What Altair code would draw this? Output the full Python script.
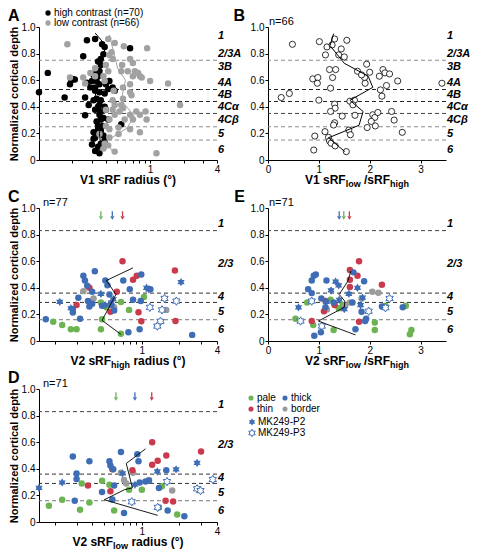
import altair as alt
import pandas as pd

W, H = 178, 133
FONT = "Liberation Sans"
PALE, THICK, THIN, BORDER = "#6cb352", "#3e6db5", "#c93a4c", "#9b9b9b"
LOWGRAY = "#a2a2a2"
HEX = ("M0,-1L0.289,-0.5L0.866,-0.5L0.577,0L0.866,0.5L0.289,0.5L0,1L-0.289,0.5"
       "L-0.866,0.5L-0.577,0L-0.866,-0.5L-0.289,-0.5Z")

# ---------------- data ----------------
v1_layers = ["1", "2/3A", "3B", "4A", "4B", "4Cα", "4Cβ", "5", "6"]
v1_layer_y = [0.935, 0.80, 0.70, 0.58, 0.485, 0.395, 0.30, 0.195, 0.072]
v1_bounds = [0.75, 0.53, 0.44, 0.35, 0.25, 0.15]
v1_bound_col = ["#8c8c8c", "#222222", "#222222", "#444444", "#8c8c8c", "#8c8c8c"]
v2_layers = ["1", "2/3", "4", "5", "6"]
v2_layer_y = [0.88, 0.58, 0.33, 0.22, 0.08]
v2_bounds = [0.83, 0.36, 0.29, 0.16]
v2_bound_col = ["#444444", "#333333", "#333333", "#777777"]

# Panel A
a_high_x = [0.32,0.27,0.37,0.39,0.66,0.25,0.38,0.36,0.35,0.12,0.33,0.31,0.34,0.20,0.21,0.195,0.30,0.33,0.27,0.35,
            0.19,0.32,0.40,0.46,0.42,0.10,0.17,0.26,0.32,0.33,0.31,0.36,0.28,0.34,0.39,0.36,0.40,0.26,0.35,0.38,
            0.36,0.42,0.55,0.34,0.35,0.36,0.31,0.33,0.38,0.32,0.39,0.30,0.36,0.34,0.32,0.35,0.31,0.38,0.33,0.35,
            0.32,0.43,0.48,0.29,0.34,0.36,0.35,0.39,0.34,0.38]
a_high_y = [0.91,0.90,0.87,0.85,0.84,0.78,0.795,0.715,0.67,0.655,0.667,0.64,0.63,0.61,0.606,0.60,0.594,0.594,0.58,0.57,
            0.57,0.546,0.57,0.546,0.534,0.51,0.47,0.47,0.52,0.46,0.45,0.45,0.413,0.40,0.40,0.365,0.377,0.336,0.34,0.316,
            0.304,0.304,0.268,0.26,0.244,0.22,0.208,0.196,0.184,0.17,0.147,0.116,0.123,0.10,0.068,0.05,0.16,0.256,0.29,0.413,
            0.377,0.594,0.52,0.546,0.74,0.76,0.51,0.50,0.232,0.10]
a_low_x = [0.18,0.42,0.48,0.58,0.94,0.45,0.43,0.46,0.40,0.56,0.66,0.70,0.55,0.63,0.73,0.78,0.81,0.84,0.70,0.29,
           0.32,0.38,0.25,0.19,0.26,0.39,0.66,1.0,1.45,0.47,0.57,0.68,0.46,0.57,0.66,1.86,0.55,0.40,0.46,0.53,
           0.75,0.91,0.66,0.81,0.93,0.70,0.48,0.43,0.59,0.40,0.52,0.66,0.81,0.43,0.52,0.39,0.42,0.38,0.48,1.14,
           0.43,0.35,0.57,0.48,0.42,0.32]
a_low_y = [0.87,0.91,0.88,0.855,0.84,0.81,0.79,0.76,0.715,0.715,0.76,0.73,0.667,0.667,0.667,0.655,0.63,0.62,0.63,0.655,
           0.63,0.63,0.62,0.62,0.575,0.594,0.57,0.594,0.575,0.52,0.546,0.486,0.45,0.46,0.51,0.413,0.413,0.377,0.377,0.365,
           0.365,0.365,0.34,0.34,0.304,0.304,0.34,0.304,0.304,0.256,0.244,0.232,0.208,0.17,0.196,0.123,0.11,0.087,0.063,0.05,
           0.232,0.196,0.39,0.413,0.667,0.69]
a_high_line_x = [0.32, 0.40, 0.37, 0.35, 0.34, 0.32, 0.36, 0.37, 0.35, 0.36]
a_high_line_y = [0.955, 0.86, 0.76, 0.66, 0.57, 0.48, 0.39, 0.30, 0.20, 0.10]
a_low_line_x = [0.43, 0.51, 0.60, 0.55, 0.72, 0.62, 0.40, 0.46]
a_low_line_y = [0.94, 0.69, 0.60, 0.45, 0.33, 0.24, 0.14, 0.065]

# Panel B
b_x = [0.48,1.01,1.31,1.55,1.16,1.26,1.44,1.13,1.39,1.50,1.94,1.76,2.0,2.26,2.30,2.39,2.19,1.21,1.33,1.27,
       0.88,0.98,0.97,1.90,1.91,2.55,2.33,3.42,1.23,2.21,2.24,0.42,0.26,1.0,1.70,1.61,1.67,1.31,1.32,1.23,
       1.46,1.71,2.06,2.10,2.16,2.43,2.48,1.31,1.29,1.95,2.11,2.64,1.12,1.59,1.62,0.92,1.19,1.21,1.24,1.32,
       0.90,1.54,1.84,2.03]
b_y = [0.87,0.89,0.91,0.90,0.85,0.865,0.835,0.79,0.79,0.775,0.72,0.667,0.66,0.68,0.655,0.647,0.63,0.68,0.68,0.62,
       0.61,0.62,0.577,0.62,0.577,0.594,0.56,0.577,0.54,0.527,0.48,0.50,0.47,0.45,0.45,0.442,0.415,0.42,0.39,0.365,
       0.33,0.336,0.34,0.32,0.357,0.365,0.30,0.28,0.263,0.244,0.256,0.208,0.213,0.225,0.19,0.18,0.17,0.143,0.126,0.106,
       0.075,0.063,0.64,0.29]
b_line_x = [1.29, 1.22, 1.50, 1.97, 2.06, 1.61, 1.87, 1.79, 1.19, 1.51]
b_line_y = [0.95, 0.86, 0.727, 0.63, 0.546, 0.449, 0.365, 0.261, 0.167, 0.063]

# Panel C (V2 sRF high)
c_pale_x = [0.195,0.23,0.27,0.30,0.47,0.68,0.48,0.68,0.79,1.04,0.52,0.47]
c_pale_y = [0.144,0.12,0.088,0.088,0.088,0.054,0.163,0.294,0.234,0.33,0.253,0.29]
c_border_x = [0.34, 0.41, 1.57, 0.60]
c_border_y = [0.375, 0.32, 0.234, 0.253]
c_thin_x = [0.70,1.84,0.85,0.91,0.63,0.38,0.30,0.56,0.94,0.99,1.86]
c_thin_y = [0.60,0.53,0.46,0.49,0.37,0.40,0.27,0.22,0.217,0.148,0.15]
c_thick_x = [0.34,0.35,0.365,0.42,0.51,0.53,0.71,0.80,0.99,0.85,0.98,0.40,0.31,0.37,0.40,0.38,0.28,0.28,0.32,0.17,
             0.78,0.96,2.53,0.60,0.48,0.57,1.17,0.55]
c_thick_y = [0.49,0.455,0.416,0.525,0.455,0.42,0.455,0.39,0.50,0.31,0.30,0.37,0.325,0.30,0.28,0.26,0.215,0.24,0.168,0.163,
             0.066,0.088,0.046,0.23,0.265,0.27,0.39,0.35]
c_p2_x = [0.22, 0.27, 0.47, 0.59, 0.51, 0.57, 1.09, 1.14, 2.06]
c_p2_y = [0.294, 0.246, 0.355, 0.314, 0.27, 0.29, 0.40, 0.387, 0.443]
c_p3_x = [1.52, 1.89, 1.16, 1.45, 1.41, 1.33]
c_p3_y = [0.32, 0.30, 0.253, 0.234, 0.148, 0.112]
c_line_x = [0.85, 0.52, 0.62, 0.48, 0.68]
c_line_y = [0.55, 0.455, 0.35, 0.155, 0.05]
c_arrow_x = [0.47, 0.58, 0.70]

# Panel E (V2 ratio)
e_pale_x = [0.54,0.77,0.89,1.23,1.29,1.39,1.47,2.10,2.10,2.31,2.71,2.82,2.79]
e_pale_y = [0.168,0.29,0.12,0.31,0.083,0.246,0.27,0.139,0.083,0.265,0.265,0.083,0.05]
e_border_x = [2.05, 2.17, 1.84, 1.52, 1.16, 1.61]
e_border_y = [0.37, 0.363, 0.32, 0.265, 0.236, 0.29]
e_thin_x = [1.79,1.61,1.76,1.61,1.61,2.24,1.13,1.31,0.86,1.79,1.10]
e_thin_y = [0.60,0.533,0.49,0.46,0.406,0.423,0.30,0.27,0.15,0.144,0.224]
e_thick_x = [0.94,0.90,0.86,0.79,0.86,1.15,1.68,1.89,1.05,1.66,1.84,1.93,1.91,1.72,1.04,0.91,2.24,2.65,1.13,1.29]
e_thick_y = [0.50,0.49,0.455,0.39,0.36,0.455,0.516,0.45,0.32,0.29,0.22,0.168,0.15,0.088,0.066,0.04,0.26,0.253,0.253,0.29]
e_p2_x = [0.60, 1.15, 1.24, 1.33, 1.39, 1.59, 1.76, 1.40, 1.50, 1.82, 1.86]
e_p2_y = [0.253, 0.294, 0.38, 0.447, 0.418, 0.355, 0.40, 0.31, 0.24, 0.27, 0.326]
e_p3_x = [0.86, 0.64, 1.06, 1.98, 2.39, 2.31]
e_p3_y = [0.30, 0.15, 0.112, 0.224, 0.32, 0.25]
e_line_x = [1.63, 1.57, 1.40, 1.51, 1.50, 0.99, 1.72]
e_line_y = [0.526, 0.45, 0.35, 0.30, 0.253, 0.15, 0.046]
e_arrow_x = [1.40, 1.49, 1.60]

# Panel D (V2 sRF low)
d_pale_x = [0.18,0.23,0.32,0.38,0.48,0.55,0.60,0.79,1.0,1.45,1.37,1.92,0.33]
d_pale_y = [0.123,0.167,0.092,0.147,0.31,0.28,0.087,0.242,0.242,0.268,0.11,0.056,0.29]
d_border_x = [0.68, 0.72, 0.75, 0.85, 1.14, 1.75]
d_border_y = [0.37, 0.316, 0.29, 0.37, 0.316, 0.237]
d_thin_x = [1.21,1.57,1.34,1.21,0.84,0.37,0.56,1.55,1.78,2.98,0.58]
d_thin_y = [0.60,0.50,0.46,0.43,0.39,0.275,0.232,0.16,0.155,0.53,0.396]
d_thick_x = [0.28,0.38,0.30,0.30,0.55,0.56,0.68,0.59,0.92,0.94,0.48,0.58,0.72,0.29,0.96,1.07,1.14,1.37,1.57,1.61,
             2.19,0.60]
d_thick_y = [0.493,0.457,0.324,0.365,0.457,0.425,0.527,0.396,0.51,0.457,0.225,0.17,0.068,0.16,0.297,0.304,0.31,0.256,0.39,0.087,
             0.043,0.275]
d_p2_x = [0.15, 0.23, 0.70, 1.33, 1.88, 2.77, 0.88]
d_p2_y = [0.256, 0.297, 0.365, 0.38, 0.396, 0.444, 0.28]
d_p3_x = [0.83, 1.34, 1.59, 2.77, 2.95, 3.70]
d_p3_y = [0.152, 0.11, 0.304, 0.25, 0.236, 0.32]
d_line_x = [1.07, 0.75, 0.84, 0.73, 0.50, 1.34]
d_line_y = [0.55, 0.44, 0.256, 0.244, 0.167, 0.05]
d_arrow_x = [0.62, 0.88, 1.20]

legend_names = ["pale", "thick", "thin", "border"]
legend_cols = [PALE, THICK, THIN, BORDER]

# ---------------- helpers ----------------
YVALS = [0, 0.2, 0.4, 0.6, 0.8, 1.0]
YLABEL = "datum.value == 0 ? '0' : format(datum.value, '.1f')"
YTITLE = "Normalized cortical depth"


def Y(field, title):
    return alt.Y(f"{field}:Q", scale=alt.Scale(domain=[0, 1], nice=False, zero=False),
                 axis=alt.Axis(values=YVALS, labelExpr=YLABEL, title=title))


LOGVALS = [0.2, 0.3, 0.4, 0.5, 0.6, 0.7, 0.8, 0.9, 1, 2, 3, 4]


def X_log(lo):
    return alt.X("x:Q", scale=alt.Scale(type="log", domain=[lo, 4], nice=False),
                 axis=alt.Axis(values=LOGVALS, title=None, labelFlush=False, labelOverlap=False,
                               labelExpr="(datum.value == 1 || datum.value == 4) ? '' + datum.value : ''"))


def X_lin():
    return alt.X("x:Q", scale=alt.Scale(domain=[0, 3.5], nice=False, zero=False),
                 axis=alt.Axis(values=[0, 1, 2, 3], format="d", title=None, labelFlush=False))


ONE = pd.DataFrame({"a": [0]})


def txt(t, px, py, size=10, weight="normal", style="normal", align="left",
        baseline="alphabetic", color="black", opacity=1.0):
    return alt.Chart(pd.DataFrame({"t": [t]})).mark_text(
        font=FONT, fontSize=size, fontWeight=weight, fontStyle=style, align=align,
        baseline=baseline, color=color, opacity=opacity
    ).encode(x=alt.value(px), y=alt.value(py), text="t:N")


def sym(px, py, color, shape="circle", size=30, hollow=False):
    if hollow:
        m = alt.Chart(ONE).mark_point(shape=shape, size=size, fill="white", stroke=color,
                                      strokeWidth=1, opacity=1, fillOpacity=1)
    else:
        m = alt.Chart(ONE).mark_point(shape=shape, size=size, filled=True, color=color, opacity=1)
    return m.encode(x=alt.value(px), y=alt.value(py))


BOLD_W = {'V': 667, '1': 556, '2': 556, ' ': 278, 's': 556, 'R': 722, 'F': 611, 'l': 278,
          'o': 611, 'w': 778, '/': 278, 'h': 611, 'i': 278, 'g': 611, 'r': 389, 'a': 556,
          'd': 611, 'u': 611, '(': 333, ')': 333, '°': 400}


def tw(s, size):
    return sum(BOLD_W.get(c, 556) for c in s) * size / 1000.0


def xtitle(pieces):
    total = sum(tw(t, 9 if sub else 12) for t, sub in pieces)
    x = W / 2 - total / 2
    out = []
    for t, sub in pieces:
        size = 9 if sub else 12
        s = t.lstrip(" ")
        lead = tw(t[:len(t) - len(s)], size)
        out.append(txt(s, x + lead, H + (27 if sub else 24), size=size, weight="bold"))
        x += tw(t, size)
    return out


def bounds_layer(ys, cols, yt):
    df = pd.DataFrame({"y": ys, "c": cols})
    return alt.Chart(df).mark_rule(strokeDash=[4, 3], strokeWidth=1).encode(
        y=Y("y", yt), color=alt.Color("c:N", scale=None))


def labels_layer(names, ys, yt):
    df = pd.DataFrame({"y": ys, "t": names})
    return alt.Chart(df).mark_text(align="left", baseline="middle", font=FONT, fontSize=11,
                                   fontWeight="bold", fontStyle="italic", color="black").encode(
        x=alt.value(W + 1), y=Y("y", yt), text="t:N")


def line_layer(X, xs, ys, color, yt, width=1.0):
    df = pd.DataFrame({"x": xs, "y": ys, "i": list(range(len(xs)))})
    return alt.Chart(df).mark_line(color=color, strokeWidth=width).encode(
        x=X, y=Y("y", yt), order="i:Q")


def xy(xs, ys, **cols):
    n = min(len(xs), len(ys))
    d = {"x": list(xs)[:n], "y": list(ys)[:n]}
    for k, v in cols.items():
        d[k] = [v] * n
    return pd.DataFrame(d)


def v2_points(X, yt, groups, p2, p3):
    df = pd.concat([xy(gx, gy, c=col) for gx, gy, col in groups], ignore_index=True)
    circles = alt.Chart(df).mark_circle(size=42, opacity=1).encode(
        x=X, y=Y("y", yt), color=alt.Color("c:N", scale=None))
    s2 = alt.Chart(xy(*p2)).mark_point(shape=HEX, size=70, filled=True, color=THICK, opacity=1).encode(
        x=X, y=Y("y", yt))
    s3 = alt.Chart(xy(*p3)).mark_point(shape=HEX, size=70, fill="white", stroke=THICK, strokeWidth=1,
                                       opacity=1, fillOpacity=1).encode(x=X, y=Y("y", yt))
    return [circles, s2, s3]


def arrows(X, xs, cols, yt):
    n = len(xs)
    df = pd.DataFrame({"x": xs, "c": cols, "y1": [0.975] * n, "y2": [0.94] * n, "yh": [0.925] * n})
    rule = alt.Chart(df).mark_rule(strokeWidth=1.3).encode(
        x=X, y=Y("y1", yt), y2="y2:Q", color=alt.Color("c:N", scale=None))
    head = alt.Chart(df).mark_point(shape="triangle-down", filled=True, size=18, opacity=1).encode(
        x=X, y=Y("yh", yt), color=alt.Color("c:N", scale=None))
    return [rule, head]


# ---------------- Panel A ----------------
XA = X_log(0.1)
ptsA = pd.concat([xy(a_high_x, a_high_y, c="#000000"), xy(a_low_x, a_low_y, c=LOWGRAY)], ignore_index=True)
A = alt.layer(
    bounds_layer(v1_bounds, v1_bound_col, YTITLE),
    labels_layer(v1_layers, v1_layer_y, YTITLE),
    alt.Chart(ptsA).mark_circle(size=42, opacity=1).encode(x=XA, y=Y("y", YTITLE), color=alt.Color("c:N", scale=None)),
    line_layer(XA, a_high_line_x, a_high_line_y, "#000000", YTITLE),
    line_layer(XA, a_low_line_x, a_low_line_y, LOWGRAY, YTITLE),
    sym(9, -14, "#000000", size=28), sym(9, -4, LOWGRAY, size=28),
    txt("high contrast (n=70)", 15, -14, baseline="middle"),
    txt("low contrast (n=66)", 15, -4, baseline="middle"),
    txt("A", -31, -6, size=16, weight="bold"),
    txt("B", W + 28, -6, size=16, weight="bold", align="right"),
    *xtitle([("V1 sRF radius (°)", False)]),
).properties(width=W, height=H)

# ---------------- Panel B ----------------
XB = X_lin()
B = alt.layer(
    bounds_layer(v1_bounds, v1_bound_col, None),
    labels_layer(v1_layers, v1_layer_y, None),
    alt.Chart(xy(b_x, b_y)).mark_point(shape="circle", size=38, fill="white", stroke="black",
                                       strokeWidth=0.8, opacity=1, fillOpacity=1).encode(x=XB, y=Y("y", None)),
    line_layer(XB, b_line_x, b_line_y, "#000000", None),
    txt("n=66", 1, -2, size=11),
    txt("B", -20, -6, size=16, weight="bold", opacity=0),
    txt("x", 20, -14, baseline="middle", opacity=0),
    *xtitle([("V1 sRF", False), ("low", True), (" /sRF", False), ("high", True)]),
).properties(width=W, height=H)

# ---------------- Panel C ----------------
XC = X_log(0.15)
C = alt.layer(
    bounds_layer(v2_bounds, v2_bound_col, YTITLE),
    labels_layer(v2_layers, v2_layer_y, YTITLE),
    *v2_points(XC, YTITLE, [(c_pale_x, c_pale_y, PALE), (c_border_x, c_border_y, BORDER),
                            (c_thin_x, c_thin_y, THIN), (c_thick_x, c_thick_y, THICK)],
               (c_p2_x, c_p2_y), (c_p3_x, c_p3_y)),
    line_layer(XC, c_line_x, c_line_y, "#000000", YTITLE, 0.9),
    *arrows(XC, c_arrow_x, [PALE, THICK, THIN], YTITLE),
    txt("n=77", 4, -2, size=11),
    txt("C", -31, -6, size=16, weight="bold"),
    txt("E", W + 28, -6, size=16, weight="bold", align="right"),
    *xtitle([("V2 sRF", False), ("high", True), (" radius (°)", False)]),
).properties(width=W, height=H)

# ---------------- Panel E ----------------
XE = X_lin()
E = alt.layer(
    bounds_layer(v2_bounds, v2_bound_col, None),
    labels_layer(v2_layers, v2_layer_y, None),
    *v2_points(XE, None, [(e_pale_x, e_pale_y, PALE), (e_border_x, e_border_y, BORDER),
                          (e_thin_x, e_thin_y, THIN), (e_thick_x, e_thick_y, THICK)],
               (e_p2_x, e_p2_y), (e_p3_x, e_p3_y)),
    line_layer(XE, e_line_x, e_line_y, "#000000", None, 0.9),
    *arrows(XE, e_arrow_x, [THICK, PALE, THIN], None),
    txt("n=71", 1, -2, size=11),
    txt("E", -20, -6, size=16, weight="bold", opacity=0),
    *xtitle([("V2 sRF", False), ("low", True), (" /sRF", False), ("high", True)]),
).properties(width=W, height=H)

# ---------------- Panel D + legend ----------------
XD = X_log(0.15)
LX = W + 34
D = alt.layer(
    bounds_layer(v2_bounds, v2_bound_col, YTITLE),
    labels_layer(v2_layers, v2_layer_y, YTITLE),
    *v2_points(XD, YTITLE, [(d_pale_x, d_pale_y, PALE), (d_border_x, d_border_y, BORDER),
                            (d_thin_x, d_thin_y, THIN), (d_thick_x, d_thick_y, THICK)],
               (d_p2_x, d_p2_y), (d_p3_x, d_p3_y)),
    line_layer(XD, d_line_x, d_line_y, "#000000", YTITLE, 0.9),
    *arrows(XD, d_arrow_x, [PALE, THICK, THIN], YTITLE),
    txt("n=71", 4, -2, size=11),
    txt("D", -31, -6, size=16, weight="bold"),
    sym(LX, 9, legend_cols[0], size=26), txt(legend_names[0], LX + 6, 9, baseline="middle"),
    sym(LX + 34, 9, legend_cols[1], size=26), txt(legend_names[1], LX + 40, 9, baseline="middle"),
    sym(LX, 20, legend_cols[2], size=26), txt(legend_names[2], LX + 6, 20, baseline="middle"),
    sym(LX + 34, 20, legend_cols[3], size=26), txt(legend_names[3], LX + 40, 20, baseline="middle"),
    sym(LX + 1, 33, THICK, shape=HEX, size=55), txt("MK249-P2", LX + 7, 33, baseline="middle"),
    sym(LX + 1, 44, THICK, shape=HEX, size=55, hollow=True), txt("MK249-P3", LX + 7, 44, baseline="middle"),
    *xtitle([("V2 sRF", False), ("low", True), (" radius (°)", False)]),
).properties(width=W, height=H)

chart = alt.vconcat(
    alt.hconcat(A, B, spacing=3),
    alt.hconcat(C, E, spacing=3),
    D,
    spacing=0,
).properties(padding=0).configure_view(stroke=None).configure_axis(
    domainColor="#000000", tickColor="#000000", labelColor="#000000", tickSize=3,
    labelPadding=1, labelFont=FONT, labelFontSize=10, titleFont=FONT, titleFontSize=11,
    titleFontWeight="bold", titleColor="#000000", titlePadding=2, grid=False,
    domainWidth=1, tickWidth=1,
)

chart.save("out.html", embed_options={"renderer": "svg", "actions": False})
